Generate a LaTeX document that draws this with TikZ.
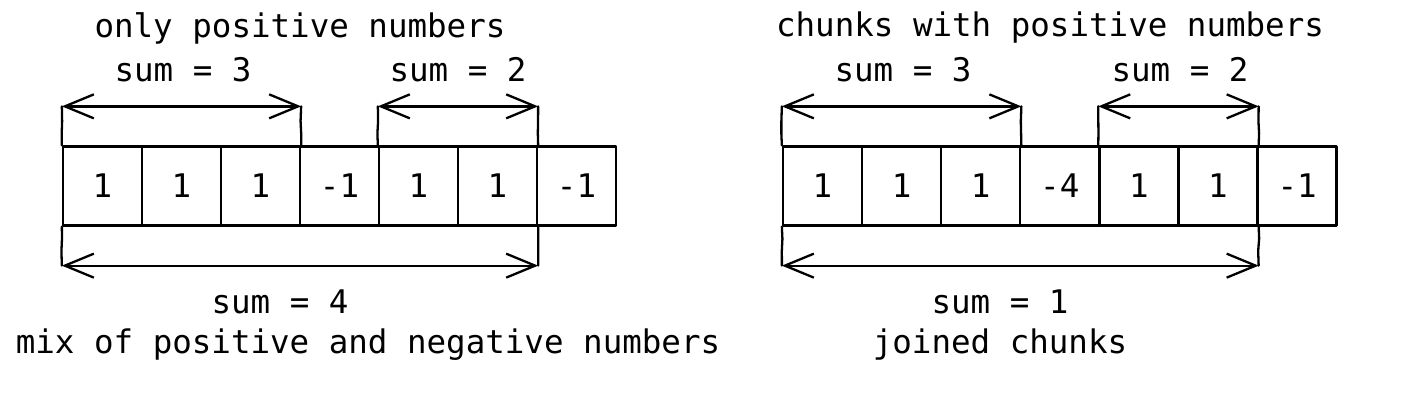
\documentclass[tikz,border=0pt]{standalone}
\usepackage{fontspec}
\setmainfont{DejaVu Sans Mono}
\usetikzlibrary{arrows.meta,decorations.pathmorphing}
\begin{document}
\begin{tikzpicture}[x=1pt,y=-1pt,
  line width=2.3pt, line join=round, line cap=round,
  every node/.style={font=\fontsize{32.5}{38}\selectfont},
  cell/.style={draw, minimum width=79pt, minimum height=79pt, inner sep=0pt, anchor=center},
  lbl/.style={inner sep=0pt, anchor=center},
  sketch/.style={decorate, decoration={random steps, segment length=12pt, amplitude=0.6pt}},
  dim/.style={{Straight Barb[length=29pt,width=24pt,line width=2.3pt]}-{Straight Barb[length=29pt,width=24pt,line width=2.3pt]}}
]
\pgfmathsetseed{7}
\useasboundingbox (0,0) rectangle (1412,407);
\fill[white] (0,0) rectangle (1412,407);

% ---------- left diagram ----------
\foreach \i/\v in {1/1,2/1,3/1,4/-1,5/1,6/1,7/-1}{
  \node[cell] (L\i) at ({63+79*(\i-1)+39.5},186) {\v};
}
\coordinate (LtA1) at ([yshift=39pt]L1.north west);
\coordinate (LtA2) at ([yshift=39pt]L3.north east);
\coordinate (LtB1) at ([yshift=39pt]L5.north west);
\coordinate (LtB2) at ([yshift=39pt]L6.north east);
\coordinate (LbA1) at ([yshift=-39pt]L1.south west);
\coordinate (LbA2) at ([yshift=-39pt]L6.south east);
\draw[sketch] (L1.north west) -- (LtA1);
\draw[sketch] (L3.north east) -- (LtA2);
\draw[sketch] (L5.north west) -- (LtB1);
\draw[sketch] (L6.north east) -- (LtB2);
\draw[sketch] (L1.south west) -- (LbA1);
\draw[sketch] (L6.south east) -- (LbA2);
\draw[dim] (LtA1) -- (LtA2);
\draw[dim] (LtB1) -- (LtB2);
\draw[dim] (LbA1) -- (LbA2);

\node[lbl] (Ltitle) at (300,28) {only positive numbers};
\node[lbl] (Ls3) at (183,70) {sum = 3};
\node[lbl] (Ls2) at (458,70) {sum = 2};
\node[lbl] (Ls4) at (280,302) {sum = 4};
\node[lbl] (Lcap) at (368,345) {mix of positive and negative numbers};

% ---------- right diagram ----------
\foreach \i/\v in {1/1,2/1,3/1,4/-4,5/1,6/1,7/-1}{
  \node[cell] (R\i) at ({783+79.1*(\i-1)+39.5},186) {\v};
}
\coordinate (RtA1) at ([yshift=39pt]R1.north west);
\coordinate (RtA2) at ([yshift=39pt]R3.north east);
\coordinate (RtB1) at ([yshift=39pt]R5.north west);
\coordinate (RtB2) at ([yshift=39pt]R6.north east);
\coordinate (RbA1) at ([yshift=-39pt]R1.south west);
\coordinate (RbA2) at ([yshift=-39pt]R6.south east);
\draw[sketch] (R1.north west) -- (RtA1);
\draw[sketch] (R3.north east) -- (RtA2);
\draw[sketch] (R5.north west) -- (RtB1);
\draw[sketch] (R6.north east) -- (RtB2);
\draw[sketch] (R1.south west) -- (RbA1);
\draw[sketch] (R6.south east) -- (RbA2);
\draw[dim] (RtA1) -- (RtA2);
\draw[dim] (RtB1) -- (RtB2);
\draw[dim] (RbA1) -- (RbA2);

\node[lbl] (Rtitle) at (1050,28) {chunks with positive numbers};
\node[lbl] (Rs3) at (903,70) {sum = 3};
\node[lbl] (Rs2) at (1180,70) {sum = 2};
\node[lbl] (Rs1) at (1000,302) {sum = 1};
\node[lbl] (Rcap) at (1000,345) {joined chunks};
\end{tikzpicture}
\end{document}
